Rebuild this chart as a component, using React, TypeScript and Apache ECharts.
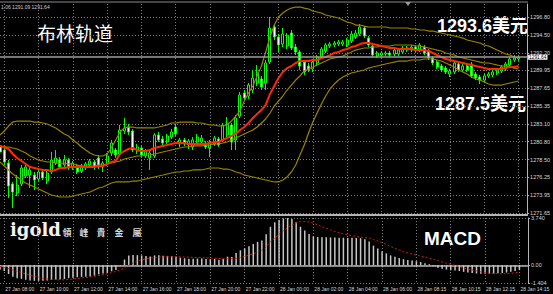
import React, { useEffect, useRef } from "react";
import * as echarts from "echarts";

const tickLabels = [
  "27 Jan 08:00", "27 Jan 10:00", "27 Jan 12:00", "27 Jan 14:00", "27 Jan 16:00", "27 Jan 18:00",
  "27 Jan 20:00", "27 Jan 22:00", "28 Jan 00:00", "28 Jan 02:00", "28 Jan 04:00", "28 Jan 06:00",
  "28 Jan 08:15", "28 Jan 10:15", "28 Jan 12:15", "28 Jan 14:15",
];

const priceTicks = [1271.65, 1273.95, 1276.25, 1278.5, 1280.8, 1283.1, 1285.35, 1287.65, 1289.95, 1292.2, 1294.5, 1296.8];
const macdTicks = [-1.404, 0, 3.74];

const opens = [
  1280.25, 1279.73, 1278.06, 1275.37, 1274.21, 1275.37, 1276.40, 1276.52, 1276.52, 1276.01,
  1276.91, 1275.75, 1276.91, 1278.06, 1278.45, 1277.81, 1278.45, 1277.42, 1277.68, 1277.04,
  1277.42, 1277.81, 1278.19, 1278.71, 1277.55, 1277.94, 1279.35, 1279.73, 1279.22, 1282.17,
  1282.68, 1282.17, 1279.60, 1279.99, 1278.96, 1278.71, 1278.96, 1281.66, 1281.14, 1280.76,
  1281.40, 1282.68, 1280.50, 1281.02, 1280.37, 1280.12, 1280.76, 1280.76, 1280.63, 1279.99,
  1280.50, 1281.14, 1281.02, 1281.66, 1282.94, 1281.02, 1284.09, 1287.05, 1286.66, 1287.43,
  1288.33, 1288.84, 1288.33, 1291.02, 1295.52, 1294.23, 1293.33, 1293.08, 1294.75, 1292.95,
  1292.31, 1291.02, 1290.51, 1290.13, 1290.90, 1291.67, 1292.44, 1293.08, 1293.21, 1293.33,
  1293.33, 1293.21, 1293.72, 1294.23, 1294.62, 1295.39, 1294.10, 1293.08, 1291.79, 1291.92,
  1292.05, 1292.18, 1292.05, 1292.05, 1292.31, 1292.82, 1292.56, 1292.95, 1292.56, 1292.95,
  1292.44, 1291.54, 1291.02, 1290.51, 1290.25, 1289.48, 1289.74, 1290.77, 1290.00, 1290.51,
  1290.77, 1289.48, 1289.10, 1288.71, 1289.23, 1289.36, 1289.61, 1289.87, 1290.13, 1290.64,
  1291.28, 1291.41,
];

const closes = [
  1279.48, 1278.19, 1275.11, 1274.34, 1275.24, 1277.42, 1277.55, 1277.17, 1275.88, 1276.91,
  1276.14, 1276.78, 1278.45, 1278.71, 1277.55, 1278.45, 1277.42, 1278.06, 1276.91, 1277.68,
  1277.94, 1278.32, 1277.55, 1277.55, 1278.06, 1278.96, 1280.63, 1279.09, 1282.30, 1282.56,
  1282.04, 1279.73, 1280.12, 1279.09, 1279.60, 1279.35, 1281.66, 1281.02, 1280.63, 1281.53,
  1282.04, 1281.79, 1281.02, 1280.50, 1280.89, 1281.02, 1281.40, 1281.27, 1280.12, 1280.76,
  1281.27, 1280.37, 1282.94, 1283.20, 1280.76, 1283.84, 1286.79, 1286.40, 1288.07, 1288.97,
  1289.61, 1287.82, 1290.90, 1295.39, 1294.23, 1293.21, 1294.62, 1294.36, 1292.82, 1292.31,
  1290.51, 1289.74, 1290.00, 1291.02, 1291.67, 1292.69, 1293.21, 1293.33, 1293.46, 1293.59,
  1293.59, 1293.85, 1294.62, 1294.75, 1295.52, 1294.36, 1293.21, 1291.92, 1292.18, 1292.18,
  1292.18, 1291.92, 1292.56, 1292.56, 1292.82, 1292.56, 1292.95, 1292.56, 1293.21, 1292.18,
  1291.54, 1290.90, 1290.38, 1290.00, 1289.74, 1289.87, 1290.90, 1290.00, 1290.51, 1290.00,
  1289.23, 1288.97, 1288.71, 1289.23, 1289.48, 1289.74, 1289.87, 1290.38, 1290.77, 1291.41,
  1291.54, 1291.64,
];

const lows = [
  1279.22, 1277.81, 1273.57, 1272.29, 1273.83, 1275.11, 1276.14, 1274.86, 1274.60, 1275.75,
  1275.88, 1275.37, 1276.65, 1277.81, 1277.29, 1277.55, 1277.17, 1277.17, 1276.65, 1276.78,
  1277.17, 1277.42, 1277.17, 1277.29, 1276.91, 1277.68, 1278.96, 1278.71, 1278.96, 1281.79,
  1281.66, 1279.48, 1279.22, 1278.83, 1278.71, 1277.17, 1278.71, 1280.76, 1280.25, 1280.50,
  1281.14, 1281.53, 1280.12, 1280.25, 1279.86, 1279.73, 1280.50, 1280.37, 1279.86, 1278.83,
  1280.25, 1280.12, 1280.76, 1281.40, 1279.73, 1279.73, 1283.84, 1286.02, 1286.28, 1287.05,
  1287.94, 1287.43, 1287.43, 1290.77, 1293.85, 1292.31, 1292.95, 1292.69, 1292.56, 1291.92,
  1290.00, 1289.36, 1289.74, 1289.74, 1290.51, 1291.41, 1292.18, 1292.82, 1292.95, 1293.08,
  1293.08, 1292.95, 1293.46, 1293.98, 1294.36, 1294.10, 1292.95, 1291.67, 1291.54, 1291.67,
  1291.79, 1291.67, 1291.79, 1291.79, 1292.05, 1292.31, 1292.31, 1292.31, 1292.31, 1291.92,
  1291.28, 1290.64, 1290.13, 1289.74, 1289.48, 1289.10, 1289.48, 1289.74, 1289.74, 1289.74,
  1288.97, 1288.71, 1288.20, 1288.46, 1288.97, 1289.10, 1289.36, 1289.61, 1289.87, 1290.38,
  1291.02, 1291.15,
];

const highs = [
  1280.63, 1279.99, 1278.45, 1275.63, 1276.52, 1277.81, 1277.94, 1277.55, 1276.91, 1277.17,
  1277.17, 1277.04, 1279.48, 1279.73, 1278.83, 1279.09, 1278.71, 1278.32, 1277.94, 1277.94,
  1278.19, 1278.58, 1278.45, 1279.09, 1278.32, 1279.35, 1281.02, 1279.99, 1282.94, 1283.84,
  1283.07, 1282.43, 1280.50, 1280.25, 1279.86, 1279.60, 1281.91, 1282.04, 1281.53, 1281.79,
  1282.43, 1283.07, 1281.27, 1281.27, 1281.14, 1281.40, 1281.79, 1281.66, 1280.89, 1281.02,
  1281.53, 1281.40, 1283.20, 1283.97, 1283.20, 1284.22, 1287.17, 1287.43, 1288.33, 1290.00,
  1290.64, 1289.23, 1291.28, 1296.80, 1295.90, 1294.62, 1295.39, 1294.75, 1295.13, 1293.33,
  1292.56, 1291.28, 1290.90, 1291.28, 1291.92, 1292.95, 1293.46, 1293.59, 1293.72, 1293.85,
  1293.85, 1294.10, 1295.00, 1295.13, 1295.90, 1295.64, 1294.36, 1293.33, 1292.44, 1292.44,
  1292.44, 1292.44, 1292.82, 1292.82, 1293.08, 1293.08, 1293.21, 1293.21, 1293.46, 1293.21,
  1292.69, 1291.79, 1291.28, 1290.77, 1290.51, 1290.13, 1291.15, 1291.02, 1290.77, 1290.77,
  1291.02, 1289.74, 1289.36, 1289.48, 1289.74, 1290.00, 1290.13, 1290.64, 1291.02, 1291.67,
  1291.92, 1291.92,
];

const upperBand = [
  1281.66, 1282.17, 1282.81, 1283.32, 1283.45, 1283.45, 1283.45, 1283.45, 1283.32, 1283.32,
  1283.20, 1283.07, 1282.81, 1282.56, 1282.17, 1281.79, 1281.53, 1281.02, 1280.63, 1280.12,
  1279.73, 1279.35, 1279.09, 1278.96, 1278.96, 1279.22, 1279.99, 1281.02, 1282.04, 1282.56,
  1282.68, 1282.68, 1282.56, 1282.56, 1282.56, 1282.56, 1282.56, 1282.68, 1282.81, 1282.94,
  1283.20, 1283.20, 1283.32, 1283.32, 1283.32, 1283.32, 1283.20, 1283.20, 1283.07, 1282.94,
  1282.94, 1282.81, 1282.81, 1282.94, 1283.45, 1284.09, 1284.74, 1286.02, 1287.05, 1287.94,
  1289.23, 1290.51, 1292.31, 1294.23, 1295.77, 1296.80, 1297.31, 1297.70, 1297.95, 1298.08,
  1298.08, 1297.95, 1297.83, 1297.57, 1297.44, 1297.31, 1297.06, 1296.93, 1296.80, 1296.67,
  1296.42, 1296.16, 1296.03, 1295.77, 1295.77, 1295.64, 1295.52, 1295.52, 1295.52, 1295.52,
  1295.52, 1295.39, 1295.39, 1295.39, 1295.39, 1295.39, 1295.26, 1295.26, 1295.13, 1295.13,
  1295.00, 1295.00, 1294.87, 1294.75, 1294.62, 1294.49, 1294.36, 1294.23, 1294.10, 1293.85,
  1293.72, 1293.59, 1293.46, 1293.21, 1293.08, 1292.82, 1292.56, 1292.31, 1292.05, 1291.92,
  1291.67, 1291.54,
];

const middleBand = [
  1280.25, 1280.12, 1280.12, 1279.99, 1279.86, 1279.60, 1279.35, 1278.96, 1278.71, 1278.45,
  1278.32, 1278.19, 1278.19, 1278.06, 1278.06, 1278.06, 1277.94, 1277.94, 1277.81, 1277.68,
  1277.68, 1277.68, 1277.68, 1277.81, 1277.81, 1277.94, 1278.06, 1278.19, 1278.32, 1278.58,
  1278.71, 1278.83, 1278.96, 1278.96, 1279.09, 1279.09, 1279.22, 1279.35, 1279.48, 1279.60,
  1279.73, 1279.86, 1279.99, 1280.12, 1280.12, 1280.25, 1280.25, 1280.25, 1280.37, 1280.37,
  1280.50, 1280.50, 1280.63, 1280.76, 1281.02, 1281.27, 1281.53, 1281.79, 1282.04, 1282.30,
  1282.68, 1283.20, 1283.71, 1284.48, 1285.38, 1286.02, 1286.66, 1287.43, 1288.07, 1288.71,
  1289.23, 1289.87, 1290.13, 1290.38, 1290.64, 1290.90, 1291.15, 1291.41, 1291.54, 1291.67,
  1291.79, 1292.05, 1292.31, 1292.56, 1292.69, 1292.82, 1292.82, 1292.95, 1292.95, 1293.08,
  1293.08, 1293.08, 1293.21, 1293.21, 1293.21, 1293.21, 1293.21, 1293.08, 1293.08, 1292.95,
  1292.82, 1292.69, 1292.56, 1292.44, 1292.18, 1292.05, 1291.92, 1291.67, 1291.54, 1291.41,
  1291.28, 1291.15, 1291.02, 1290.90, 1290.90, 1290.77, 1290.64, 1290.51, 1290.51, 1290.38,
  1290.25, 1290.13,
];

const lowerBand = [
  1278.19, 1277.68, 1277.17, 1276.65, 1276.27, 1275.88, 1275.50, 1275.24, 1274.98, 1274.73,
  1274.47, 1274.21, 1273.96, 1273.83, 1273.70, 1273.70, 1273.70, 1273.83, 1273.96, 1274.09,
  1274.21, 1274.34, 1274.60, 1274.86, 1274.98, 1275.24, 1275.50, 1275.63, 1275.63, 1275.63,
  1275.63, 1275.75, 1275.75, 1275.88, 1276.01, 1276.14, 1276.27, 1276.40, 1276.52, 1276.65,
  1276.78, 1276.91, 1276.91, 1277.04, 1277.04, 1277.17, 1277.17, 1277.17, 1277.29, 1277.42,
  1277.42, 1277.42, 1277.29, 1277.29, 1277.17, 1276.91, 1276.78, 1276.52, 1276.40, 1276.27,
  1276.14, 1276.01, 1275.88, 1275.75, 1275.63, 1275.63, 1275.88, 1276.27, 1276.91, 1277.81,
  1279.09, 1280.37, 1281.91, 1283.32, 1284.48, 1285.64, 1286.66, 1287.56, 1288.20, 1288.71,
  1289.10, 1289.36, 1289.61, 1289.74, 1289.87, 1290.00, 1290.25, 1290.38, 1290.51, 1290.64,
  1290.77, 1290.90, 1291.02, 1291.15, 1291.15, 1291.15, 1291.28, 1291.28, 1291.28, 1291.41,
  1291.41, 1291.41, 1291.28, 1291.15, 1290.90, 1290.64, 1290.38, 1290.00, 1289.74, 1289.48,
  1289.10, 1288.84, 1288.71, 1288.46, 1288.20, 1288.07, 1288.07, 1288.07, 1288.20, 1288.33,
  1288.46, 1288.59,
];

const redAverage = [
  1280.25, 1280.12, 1279.86, 1279.22, 1278.71, 1278.32, 1277.94, 1277.55, 1277.42, 1277.29,
  1277.17, 1277.17, 1277.04, 1277.17, 1277.42, 1277.42, 1277.55, 1277.55, 1277.55, 1277.55,
  1277.55, 1277.55, 1277.55, 1277.68, 1277.68, 1277.94, 1278.19, 1278.32, 1279.22, 1279.60,
  1279.86, 1279.99, 1279.73, 1279.60, 1279.60, 1279.73, 1279.99, 1280.12, 1280.25, 1280.37,
  1280.50, 1280.63, 1280.63, 1280.63, 1280.50, 1280.50, 1280.50, 1280.50, 1280.50, 1280.63,
  1280.76, 1280.76, 1281.02, 1281.27, 1281.53, 1281.79, 1282.30, 1282.68, 1283.20, 1283.84,
  1284.35, 1284.86, 1285.51, 1286.92, 1287.94, 1288.97, 1289.74, 1290.25, 1290.51, 1290.90,
  1291.15, 1291.15, 1291.15, 1291.28, 1291.28, 1291.54, 1291.67, 1291.92, 1292.18, 1292.31,
  1292.56, 1292.69, 1292.95, 1293.08, 1293.33, 1293.46, 1293.46, 1293.33, 1293.21, 1293.08,
  1292.95, 1292.82, 1292.82, 1292.69, 1292.69, 1292.69, 1292.69, 1292.56, 1292.56, 1292.56,
  1292.44, 1292.18, 1291.92, 1291.67, 1291.41, 1291.28, 1291.15, 1291.02, 1290.90, 1290.77,
  1290.64, 1290.51, 1290.38, 1290.25, 1290.13, 1290.13, 1290.13, 1290.13, 1290.25, 1290.38,
  1290.38, 1290.51,
];

const macdHist = [
  -0.35, -0.45, -0.70, -0.90, -1.02, -1.08, -1.15, -1.20, -1.23, -1.23,
  -1.22, -1.20, -1.17, -1.15, -1.12, -1.08, -1.02, -0.98, -0.95, -0.92,
  -0.90, -0.88, -0.82, -0.72, -0.66, -0.60, -0.48, -0.38, -0.05, 0.45,
  0.78, 0.82, 0.80, 0.78, 0.74, 0.70, 0.78, 0.80, 0.76, 0.74,
  0.73, 0.70, 0.60, 0.55, 0.52, 0.52, 0.53, 0.54, 0.50, 0.48,
  0.50, 0.44, 0.52, 0.68, 0.66, 0.98, 1.18, 1.34, 1.50, 1.68,
  1.85, 1.95, 2.45, 3.05, 3.40, 3.58, 3.70, 3.74, 3.66, 3.40,
  3.05, 2.75, 2.48, 2.30, 2.24, 2.22, 2.22, 2.20, 2.20, 2.18,
  2.18, 2.16, 2.18, 2.16, 2.14, 2.05, 1.88, 1.55, 1.32, 1.10,
  0.94, 0.78, 0.68, 0.58, 0.48, 0.42, 0.38, 0.32, 0.26, 0.16,
  0.08, -0.08, -0.20, -0.28, -0.34, -0.40, -0.42, -0.46, -0.52, -0.58,
  -0.62, -0.65, -0.68, -0.68, -0.67, -0.66, -0.64, -0.62, -0.58, -0.52,
  -0.45, -0.38,
];

const macdSignal = [
  -0.10, -0.18, -0.27, -0.38, -0.48, -0.58, -0.68, -0.80, -0.88, -0.96,
  -1.03, -1.08, -1.11, -1.13, -1.15, -1.15, -1.12, -1.09, -1.05, -1.01,
  -0.97, -0.93, -0.88, -0.82, -0.75, -0.67, -0.58, -0.49, -0.38, -0.20,
  0.00, 0.18, 0.32, 0.42, 0.50, 0.56, 0.61, 0.64, 0.66, 0.67,
  0.67, 0.67, 0.66, 0.65, 0.64, 0.62, 0.61, 0.60, 0.59, 0.57,
  0.55, 0.53, 0.52, 0.51, 0.52, 0.55, 0.62, 0.70, 0.80, 0.90,
  1.04, 1.20, 1.45, 1.86, 2.15, 2.45, 2.72, 2.97, 3.18, 3.35,
  3.45, 3.46, 3.42, 3.33, 3.20, 3.06, 2.93, 2.80, 2.68, 2.58,
  2.48, 2.40, 2.34, 2.28, 2.23, 2.19, 2.14, 2.04, 1.92, 1.78,
  1.64, 1.48, 1.34, 1.20, 1.08, 0.98, 0.88, 0.80, 0.72, 0.63,
  0.55, 0.46, 0.36, 0.26, 0.16, 0.07, -0.02, -0.12, -0.22, -0.30,
  -0.38, -0.45, -0.52, -0.58, -0.62, -0.65, -0.67, -0.67, -0.66, -0.63,
  -0.59, -0.55,
];

// 15-minute bars from 27 Jan 07:45; the feed has no 28 Jan 07:00 bar; two empty slots on the right
function buildCategories(): string[] {
  const out: string[] = [];
  let day = 27;
  let mins = 7 * 60 + 45;
  for (let i = 0; i < 124; i++) {
    const h = Math.floor(mins / 60);
    const m = mins % 60;
    out.push(`${day} Jan ${String(h).padStart(2, "0")}:${String(m).padStart(2, "0")}`);
    mins += 15;
    if (mins >= 1440) { mins -= 1440; day += 1; }
    if (day === 28 && mins === 7 * 60) mins += 15;
  }
  return out;
}
const categories = buildCategories();

const OLIVE = "#9a8500";
const GRID = "#7e7e7e";
const AXIS = "#b4b4b4";
const LABEL = "#dadada";

export default function App() {
  const ref = useRef<HTMLDivElement>(null);
  useEffect(() => {
    document.body.style.margin = "0";
    document.body.style.background = "#000";
    const chart = echarts.init(ref.current!, null, { renderer: "svg" });
    const isTick = (_i: number, v: string) => tickLabels.includes(v);
    const lastPrice = closes[closes.length - 1];
    const candles = opens.map((o, i) => [o, closes[i], lows[i], highs[i]]);
    const line = (data: number[], color: string, width: number) => ({
      type: "line", xAxisIndex: 0, yAxisIndex: 0, data, symbol: "none", showSymbol: false,
      silent: true, lineStyle: { color, width }, z: 3,
    });
    const txt = (text: string, x: number, y: number, size: number, opts: any = {}) => ({
      type: "text", x, y, silent: true,
      style: {
        text, fill: opts.fill || "#ffffff", fontSize: size,
        fontFamily: opts.family || "'Liberation Sans', Arial, sans-serif",
        fontWeight: opts.weight || "normal", align: opts.align || "left", verticalAlign: "middle",
        shadowColor: opts.shadow, shadowBlur: opts.shadow ? 2 : 0,
        shadowOffsetX: opts.shadow ? 1 : 0, shadowOffsetY: opts.shadow ? 1 : 0,
      },
    });
    const logoChars = ["領", "峰", "貴", "金", "屬"];
    const logoX = [67, 84, 101, 119, 137];
    chart.setOption({
      animation: false,
      backgroundColor: "#000000",
      grid: [
        { left: 0, right: 25, top: 4, height: 211 },
        { left: 0, right: 25, top: 218, height: 65 },
      ],
      xAxis: [
        {
          type: "category", gridIndex: 0, data: categories, boundaryGap: false,
          axisLine: { show: true, lineStyle: { color: AXIS, width: 2 } },
          axisTick: { show: false }, axisLabel: { show: false },
          splitLine: { show: true, interval: isTick, lineStyle: { color: GRID, type: [1, 2], width: 1 } },
        },
        {
          type: "category", gridIndex: 1, data: categories, boundaryGap: false,
          axisLine: { show: true, lineStyle: { color: AXIS, width: 1.5 } },
          axisTick: { show: true, interval: isTick, length: 2, lineStyle: { color: AXIS } },
          axisLabel: {
            show: true, interval: isTick, align: "left", fontSize: 5, color: LABEL, margin: 3,
            fontFamily: "'Liberation Sans Narrow', 'Liberation Sans', Arial, sans-serif", padding: [0, 0, 0, 1],
          },
          splitLine: { show: true, interval: isTick, lineStyle: { color: GRID, type: [1, 2], width: 1 } },
        },
      ],
      yAxis: [
        {
          type: "value", gridIndex: 0, position: "right", min: 1271.39, max: 1298.47, scale: true,
          axisLine: { show: true, lineStyle: { color: AXIS, width: 1 } },
          axisTick: { show: true, customValues: priceTicks, length: 2, lineStyle: { color: AXIS } },
          axisLabel: {
            customValues: priceTicks, formatter: (v: number) => v.toFixed(2), fontSize: 5.5, color: LABEL,
            margin: 3, fontFamily: "'Liberation Sans', Arial, sans-serif",
          },
          splitLine: { show: true, lineStyle: { color: GRID, type: [1, 2], width: 1 } },
        },
        {
          type: "value", gridIndex: 1, position: "right", min: -1.404, max: 3.74,
          axisLine: { show: true, lineStyle: { color: AXIS, width: 1 } },
          axisTick: { show: true, customValues: macdTicks, length: 2, lineStyle: { color: AXIS } },
          axisLabel: {
            customValues: macdTicks, formatter: (v: number) => (v === 0 ? "0.00" : v.toFixed(3)),
            fontSize: 5.5, color: LABEL, margin: 3, fontFamily: "'Liberation Sans', Arial, sans-serif",
          },
          splitLine: { show: true, lineStyle: { color: GRID, type: [1, 2], width: 1 } },
        },
      ],
      series: [
        {
          type: "candlestick", xAxisIndex: 0, yAxisIndex: 0, data: candles, barWidth: 2.5, silent: true, z: 2,
          itemStyle: { color: "#000000", color0: "#ffffff", borderColor: "#00ff00", borderColor0: "#00ff00", borderWidth: 1 },
          markLine: {
            silent: true, symbol: ["none", "none"], animation: false,
            data: [{ yAxis: lastPrice }],
            lineStyle: { color: "#9c9c9c", width: 1.5, type: "solid" },
            label: {
              show: true, position: "end", distance: 1, formatter: lastPrice.toFixed(2),
              backgroundColor: "#ffffff", color: "#000000", fontSize: 4.8, padding: [0, 1, 0, 1],
              fontFamily: "'Liberation Sans', Arial, sans-serif",
            },
          },
        },
        line(upperBand, OLIVE, 1.2),
        line(middleBand, OLIVE, 1.2),
        line(lowerBand, OLIVE, 1.2),
        line(redAverage, "#ff2a00", 2),
        {
          type: "bar", xAxisIndex: 1, yAxisIndex: 1, data: macdHist, barWidth: 1.5, silent: true,
          itemStyle: { color: "#c6c6c6" },
        },
        {
          type: "line", xAxisIndex: 1, yAxisIndex: 1, data: macdSignal, symbol: "none", showSymbol: false, silent: true,
          lineStyle: { color: "#d01818", width: 1, type: [2, 2] }, z: 3,
        },
      ],
      graphic: [
        { type: "line", silent: true, shape: { x1: 0, y1: 2, x2: 528, y2: 2 }, style: { stroke: "#8a8a8a", lineWidth: 1 } },
        { type: "polygon", silent: true, shape: { points: [[405, 2], [411, 2], [408, 6]] }, style: { fill: "#9a9a9a" } },
        txt("1.06 1291.09 1291.64", 1, 7, 5, { fill: "#cfcfcf" }),
        txt("布林轨道", 37, 32, 19, { family: "'Noto Sans CJK SC', sans-serif" }),
        txt("1293.6美元", 437, 26, 18, { weight: "bold", family: "'Liberation Sans', 'Noto Sans CJK SC', sans-serif" }),
        txt("1287.5美元", 435, 104, 18, { weight: "bold", family: "'Liberation Sans', 'Noto Sans CJK SC', sans-serif" }),
        txt("MACD", 424, 238, 19, { weight: "bold" }),
        txt("igold", 10, 229, 18, { weight: "bold", family: "'DejaVu Serif', serif", fill: "#f2f2f2", shadow: "#777777" }),
        ...logoChars.map((c, i) =>
          txt(c, logoX[i], 232, 9, { align: "center", weight: "bold", fill: "#d6d6d6", family: "'Noto Sans CJK TC', sans-serif", shadow: "#555555" })
        ),
      ],
    });
    return () => chart.dispose();
  }, []);
  return <div ref={ref} style={{ width: 553, height: 294, position: "absolute", left: 0, top: 0 }} />;
}
